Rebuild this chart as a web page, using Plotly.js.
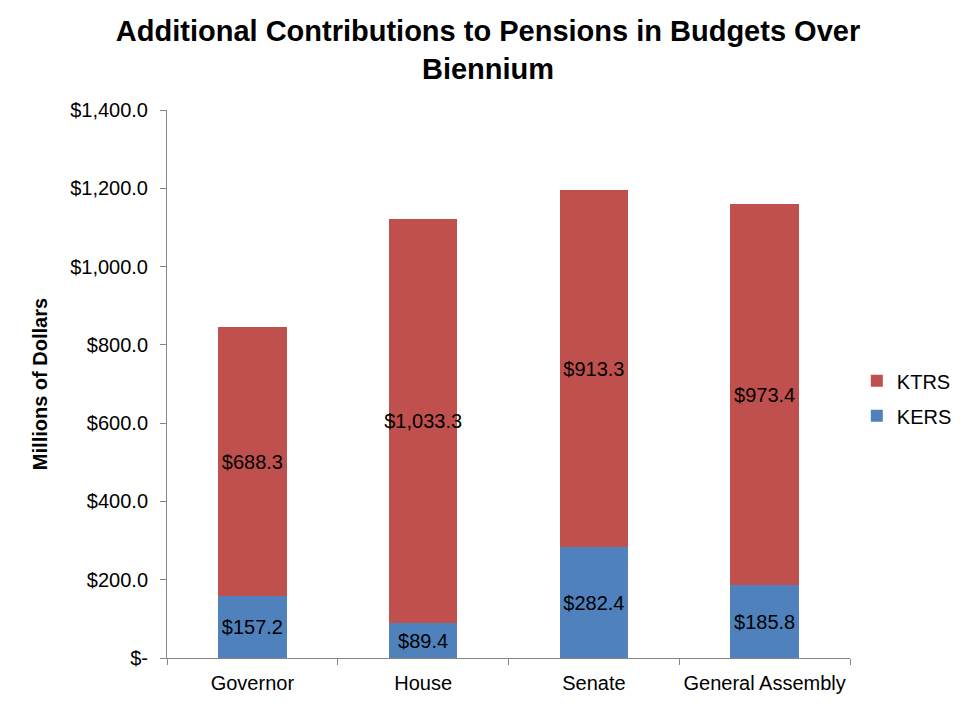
<!DOCTYPE html>
<html>
<head>
<meta charset="utf-8">
<script src="https://cdn.plot.ly/plotly-3.0.1.min.js"></script>
<style>html,body{margin:0;padding:0;background:#fff;}#chart{width:976px;height:709px;}</style>
</head>
<body>
<div id="chart"></div>
<script>
const categories = ["Governor", "House", "Senate", "General Assembly"];
const kers = [157.2, 89.4, 282.4, 185.8];
const ktrs = [688.3, 1033.3, 913.3, 973.4];
const yTickVals = [0, 200, 400, 600, 800, 1000, 1200, 1400];
const yTickText = ["$-", "$200.0", "$400.0", "$600.0", "$800.0", "$1,000.0", "$1,200.0", "$1,400.0"];

const FONT = "Liberation Sans, Arial, sans-serif";

const traces = [
  {
    type: "bar", name: "KERS", x: categories, y: kers, legendgroup: "kers", legendrank: 2,
    marker: {color: "#4F81BD"},
    texttemplate: "$%{y:,.1f}", textposition: "inside", insidetextanchor: "middle",
    textangle: 0, constraintext: "none",
    textfont: {family: FONT, size: 20, color: "#000"},
    hoverinfo: "none"
  },
  {
    type: "bar", name: "KTRS", x: categories, y: ktrs, legendgroup: "ktrs", legendrank: 1,
    marker: {color: "#C0504D"},
    texttemplate: "$%{y:,.1f}", textposition: "inside", insidetextanchor: "middle",
    textangle: 0, constraintext: "none",
    textfont: {family: FONT, size: 20, color: "#000"},
    hoverinfo: "none"
  }
];

const layout = {
  width: 976, height: 709,
  paper_bgcolor: "#fff", plot_bgcolor: "#fff",
  font: {family: FONT, size: 20, color: "#000"},
  margin: {l: 167, r: 126, t: 110, b: 51, autoexpand: false},
  barmode: "stack",
  bargap: 0.6,
  showlegend: true,
  title: {
    text: "<b>Additional Contributions to Pensions in Budgets Over<br>Biennium</b>",
    font: {family: FONT, size: 29, color: "#000"},
    x: 0.5, xanchor: "center", y: 0.942, yanchor: "top"
  },
  legend: {
    x: 1.01, xanchor: "left", y: 0.474, yanchor: "middle",
    traceorder: "grouped", tracegroupgap: 6,
    font: {family: FONT, size: 20, color: "#000"},
    itemwidth: 30, bgcolor: "rgba(0,0,0,0)"
  },
  xaxis: {
    type: "category",
    showline: true, linecolor: "#868686", linewidth: 1,
    ticks: "outside", tickson: "boundaries", ticklen: 6, tickcolor: "#868686",
    ticklabelstandoff: 7, tickangle: 0,
    tickfont: {family: FONT, size: 20, color: "#000"},
    showgrid: false, zeroline: false, fixedrange: true
  },
  yaxis: {
    range: [0, 1400],
    tickvals: yTickVals, ticktext: yTickText,
    showline: true, linecolor: "#868686", linewidth: 1,
    ticks: "outside", ticklen: 6, tickcolor: "#868686",
    ticklabelstandoff: 8,
    tickfont: {family: FONT, size: 20, color: "#000"},
    showgrid: false, zeroline: false, fixedrange: true,
    title: {text: "<b>Millions of Dollars</b>", font: {family: FONT, size: 20, color: "#000"}, standoff: 17}
  }
};

Plotly.newPlot("chart", traces, layout, {displayModeBar: false, staticPlot: true});
</script>
</body>
</html>
